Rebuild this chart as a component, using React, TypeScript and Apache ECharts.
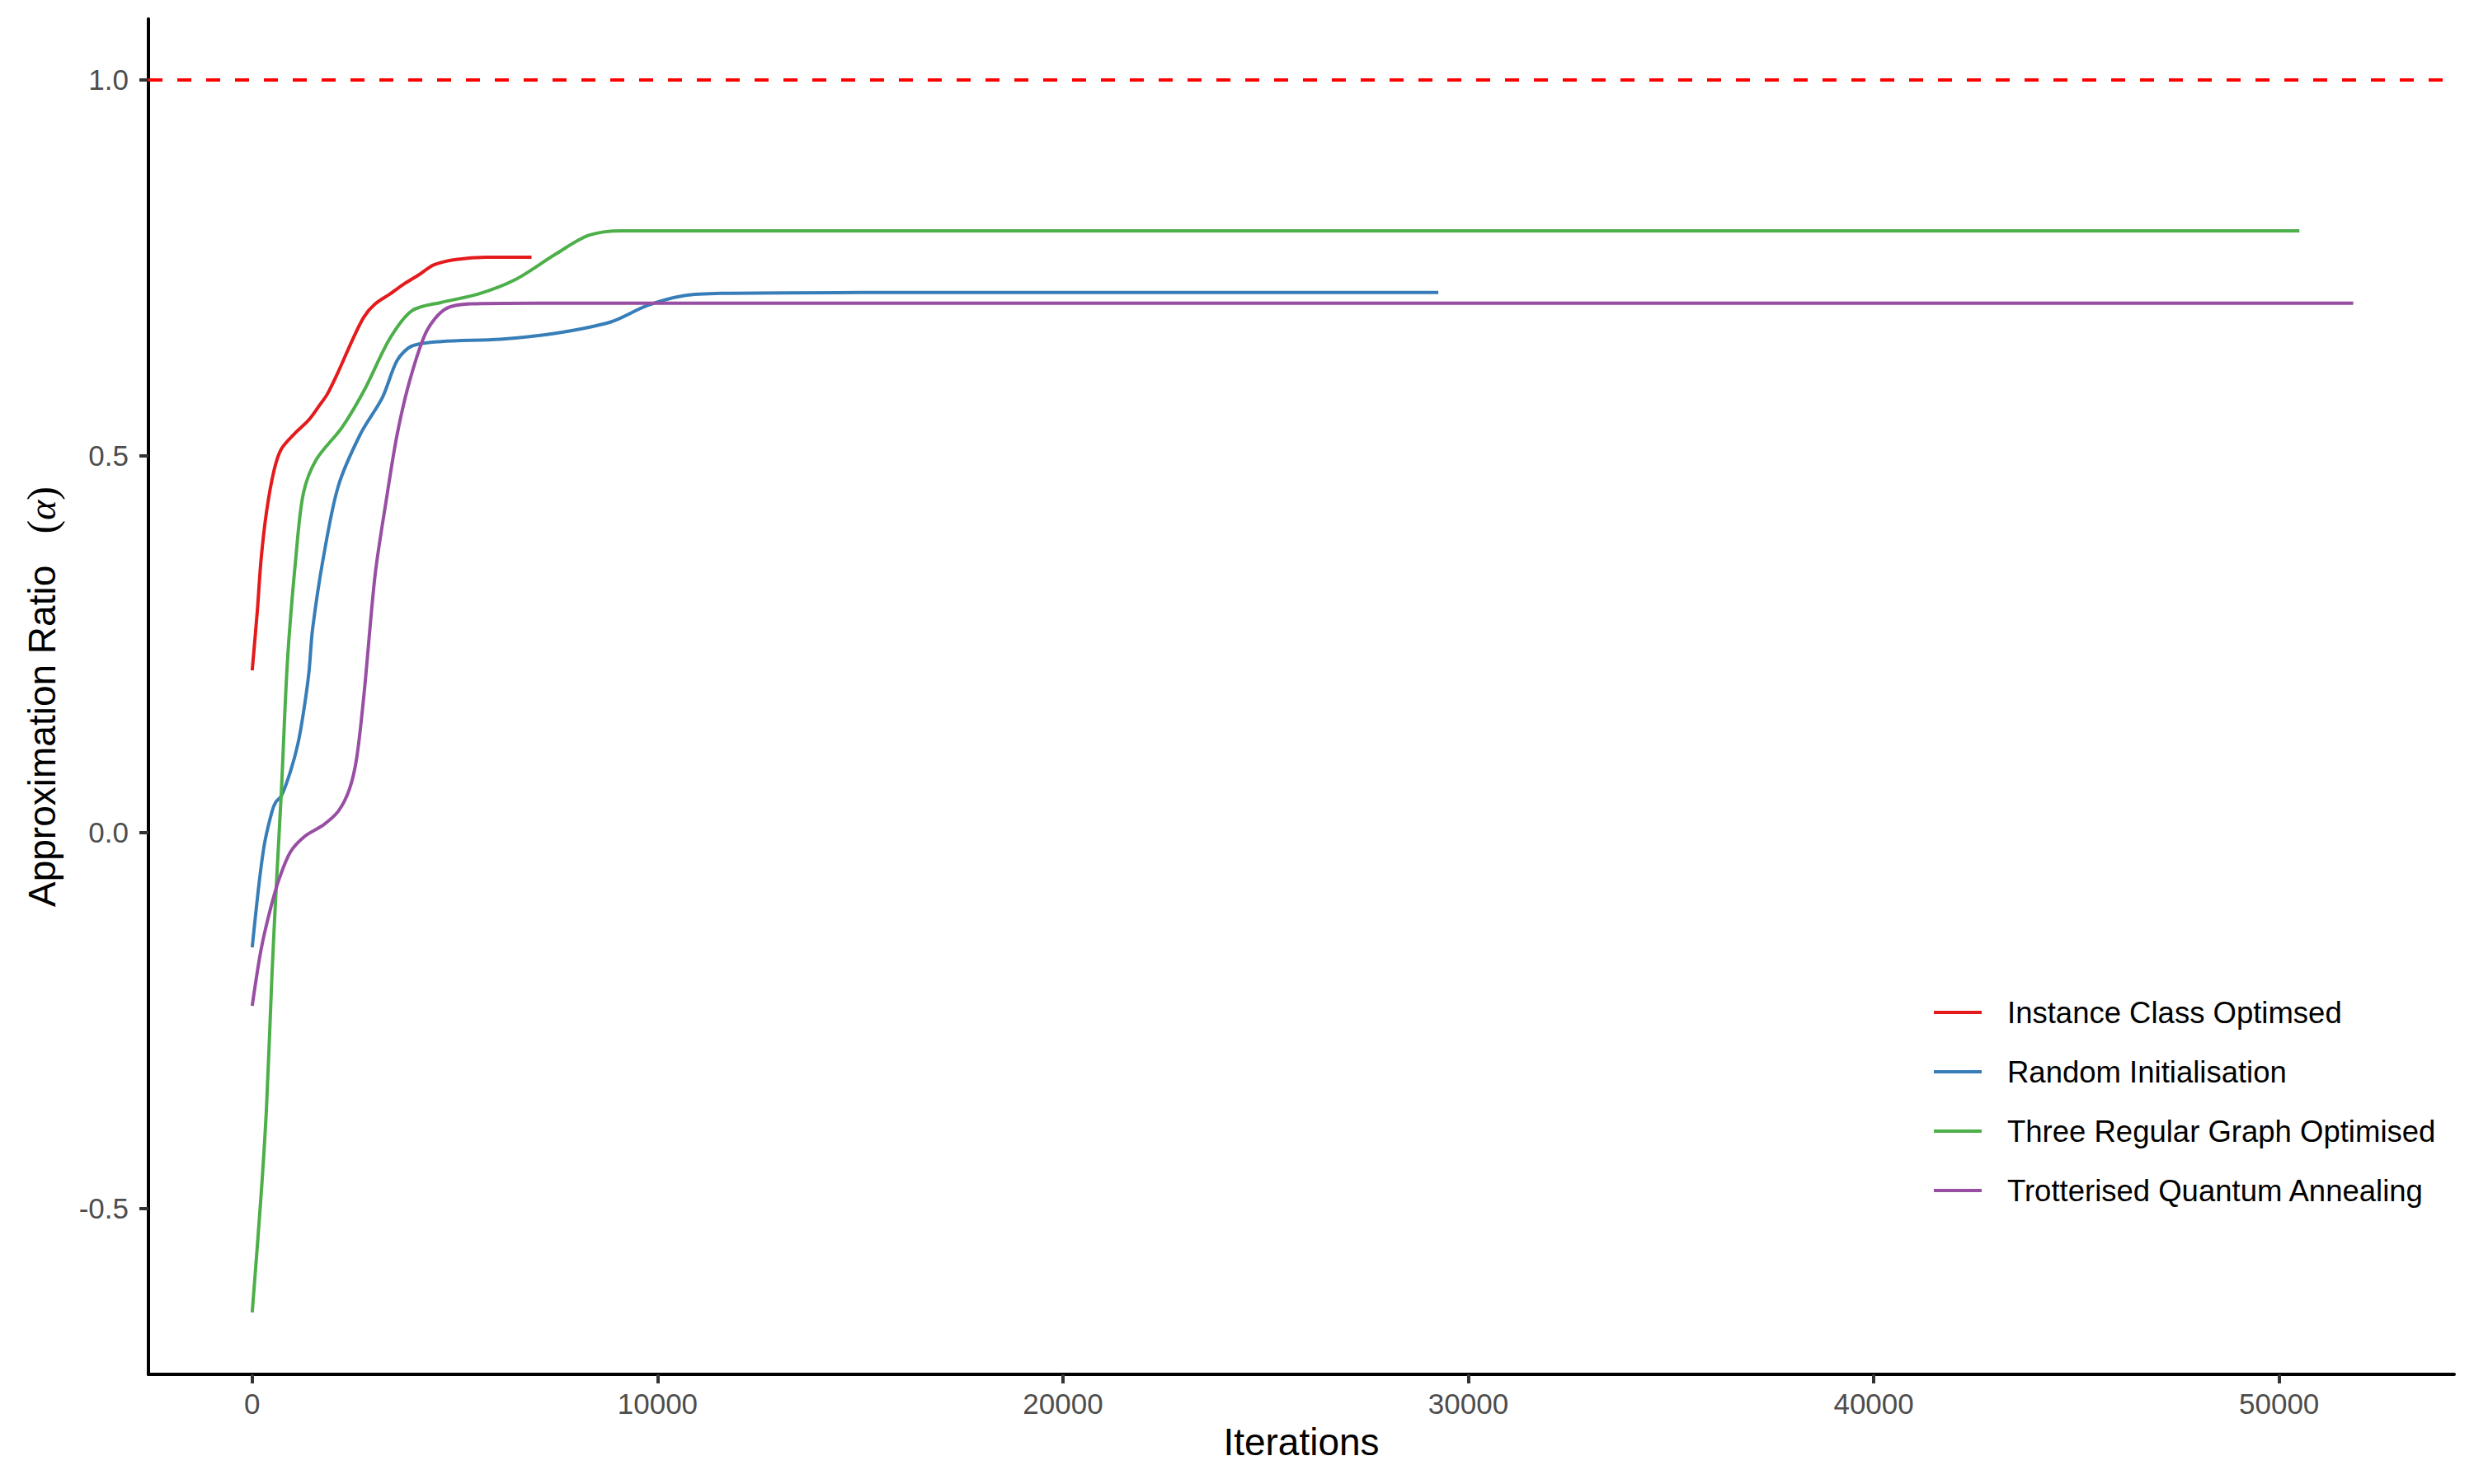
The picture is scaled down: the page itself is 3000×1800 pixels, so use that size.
import React, { useEffect, useRef } from "react";
import * as echarts from "echarts";

// ---- data ----
const X_TICKS = [0, 10000, 20000, 30000, 40000, 50000];
const Y_TICKS = [-0.5, 0, 0.5, 1.0];
const REFERENCE_LEVEL = 1.0;

const SERIES_NAMES = [
  "Instance Class Optimsed",
  "Random Initialisation",
  "Three Regular Graph Optimised",
  "Trotterised Quantum Annealing",
];
const SERIES_COLORS = ["#E41A1C", "#377EB8", "#4DAF4A", "#984EA3"];

const instanceIter = [0, 126, 218, 354, 535, 716, 1034, 1398, 1670, 1851, 2124, 2488, 2761, 3034, 3396, 3760, 4122, 4486, 5031, 5758, 6890];
const instanceVal = [0.215, 0.294, 0.362, 0.426, 0.48, 0.509, 0.529, 0.548, 0.568, 0.582, 0.612, 0.656, 0.685, 0.702, 0.715, 0.729, 0.741, 0.754, 0.761, 0.764, 0.764];

const randomIter = [0, 171, 307, 490, 580, 716, 944, 1125, 1261, 1398, 1489, 1762, 2124, 2669, 3215, 3577, 3941, 4668, 6120, 7483, 8846, 9754, 10663, 11571, 15000, 20000, 25000, 29260];
const randomVal = [-0.153, -0.067, -0.014, 0.028, 0.04, 0.048, 0.081, 0.117, 0.158, 0.212, 0.27, 0.367, 0.46, 0.529, 0.578, 0.627, 0.646, 0.652, 0.655, 0.663, 0.678, 0.7, 0.713, 0.716, 0.717, 0.717, 0.717, 0.717];

const threeRegIter = [0, 218, 354, 490, 598, 716, 871, 1080, 1261, 1579, 2216, 2761, 3396, 3941, 4668, 5577, 6484, 7483, 8301, 9119, 10500, 15000, 25000, 35000, 45000, 50500];
const threeRegVal = [-0.638, -0.483, -0.364, -0.186, -0.067, 0.051, 0.229, 0.367, 0.45, 0.495, 0.538, 0.587, 0.656, 0.693, 0.704, 0.715, 0.734, 0.768, 0.793, 0.799, 0.799, 0.799, 0.799, 0.799, 0.799, 0.799];

const trotterIter = [0, 218, 444, 671, 944, 1306, 1762, 2124, 2397, 2578, 2761, 3034, 3306, 3577, 3896, 4305, 4759, 5394, 7000, 15000, 25000, 35000, 45000, 51830];
const trotterVal = [-0.2305, -0.156, -0.103, -0.061, -0.026, -0.005, 0.01, 0.028, 0.057, 0.099, 0.185, 0.343, 0.441, 0.529, 0.602, 0.666, 0.695, 0.702, 0.703, 0.703, 0.703, 0.703, 0.703, 0.703];

const SERIES_ITERS = [instanceIter, randomIter, threeRegIter, trotterIter];
const SERIES_VALS = [instanceVal, randomVal, threeRegVal, trotterVal];

const FONT = "Liberation Sans";

export default function App() {
  const ref = useRef<HTMLDivElement>(null);

  useEffect(() => {
    if (!ref.current) return;
    const chart = echarts.init(ref.current, null, { renderer: "svg" });

    const series: any[] = SERIES_NAMES.map((name, i) => {
      const s: any = {
        name,
        type: "line",
        data: SERIES_ITERS[i].map((x, k) => [x, SERIES_VALS[i][k]]),
        showSymbol: false,
        symbol: "none",
        smooth: 0.3,
        lineStyle: { color: SERIES_COLORS[i], width: 4 },
        itemStyle: { color: SERIES_COLORS[i] },
        emphasis: { disabled: true },
        z: 3 + i,
      };
      if (i === 0) {
        s.markLine = {
          silent: true,
          symbol: ["none", "none"],
          label: { show: false },
          emphasis: { disabled: true },
          lineStyle: { color: "#FF0000", type: [17, 18], width: 4 },
          data: [{ yAxis: REFERENCE_LEVEL }],
        };
      }
      return s;
    });

    chart.setOption({
      animation: false,
      backgroundColor: "#ffffff",
      grid: { left: 180, right: 24, top: 23, bottom: 133, containLabel: false },
      legend: {
        orient: "vertical",
        left: 2345,
        top: 1208,
        padding: 0,
        itemWidth: 58,
        itemHeight: 4,
        itemGap: 32,
        icon: "rect",
        data: SERIES_NAMES,
        selectedMode: false,
        textStyle: {
          fontFamily: FONT,
          fontSize: 36.5,
          color: "#000000",
          lineHeight: 40,
          padding: [0, 0, 0, 26],
        },
      },
      xAxis: {
        type: "value",
        min: -2560,
        max: 54320,
        name: "Iterations",
        nameLocation: "middle",
        nameGap: 59,
        nameTextStyle: { fontFamily: FONT, fontSize: 46, color: "#000000" },
        axisLine: { onZero: false, lineStyle: { color: "#000000", width: 4 } },
        axisTick: { show: true, length: 11, customValues: X_TICKS, lineStyle: { color: "#333333", width: 4 } },
        axisLabel: {
          customValues: X_TICKS,
          margin: 18,
          fontFamily: FONT,
          fontSize: 35,
          color: "#4D4D4D",
          formatter: (v: number) => String(v),
        },
        splitLine: { show: false },
      },
      yAxis: {
        type: "value",
        min: -0.7202,
        max: 1.0805,
        name: "{a|Approximation Ratio   }{p|(}{al|α}{p|)}",
        nameLocation: "middle",
        nameRotate: 90,
        nameGap: 104,
        nameTextStyle: {
          rich: {
            a: { fontFamily: FONT, fontSize: 46, color: "#000000" },
            p: { fontFamily: "Liberation Serif", fontSize: 50, color: "#000000" },
            al: { fontFamily: "Liberation Serif", fontStyle: "italic", fontSize: 46, color: "#000000" },
          },
        },
        axisLine: { onZero: false, lineStyle: { color: "#000000", width: 4 } },
        axisTick: { show: true, length: 11, customValues: Y_TICKS, lineStyle: { color: "#333333", width: 4 } },
        axisLabel: {
          customValues: Y_TICKS,
          margin: 24,
          fontFamily: FONT,
          fontSize: 35,
          color: "#4D4D4D",
          formatter: (v: number) => v.toFixed(1),
        },
        splitLine: { show: false },
      },
      series,
    });

    return () => {
      chart.dispose();
    };
  }, []);

  return (
    <div
      ref={ref}
      style={{ position: "fixed", left: 0, top: 0, width: 3000, height: 1800, background: "#ffffff" }}
    />
  );
}
